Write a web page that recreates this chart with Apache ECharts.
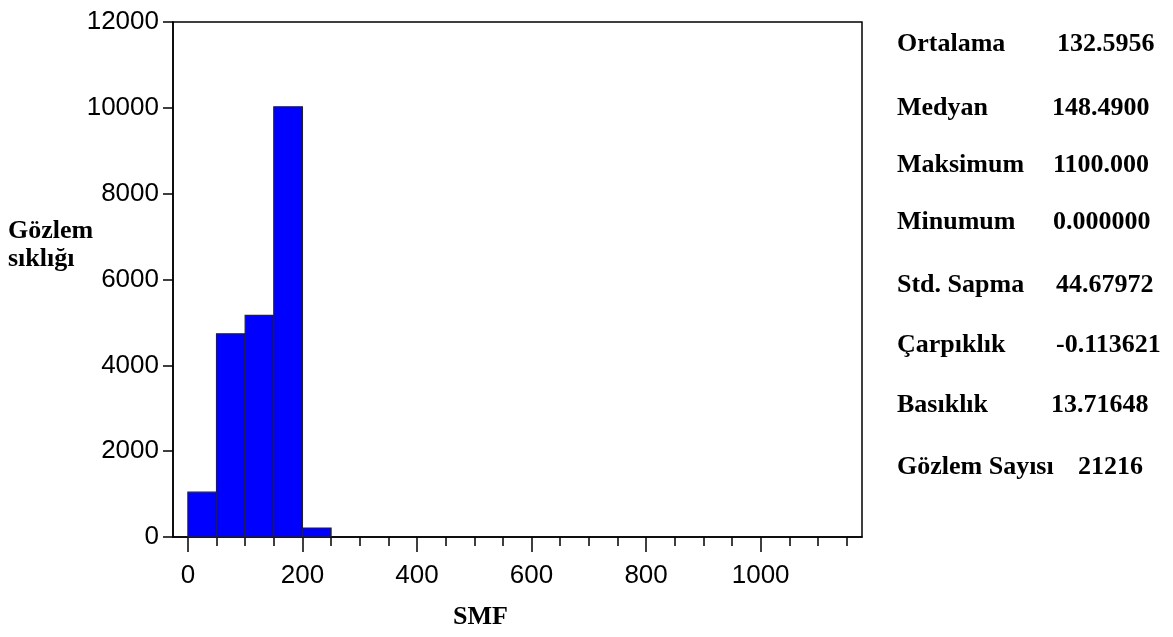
<!DOCTYPE html>
<html>
<head>
<meta charset="utf-8">
<script src="https://cdn.jsdelivr.net/npm/echarts@6/dist/echarts.min.js"></script>
<style>
  html, body { margin: 0; padding: 0; background: #fff; }
  #chart { width: 1173px; height: 637px; }
</style>
</head>
<body>
<div id="chart"></div>
<script>
  // histogram bins (SMF) and frequencies
  var binStarts = [0, 50, 100, 150, 200]
  var binEnds = [50, 100, 150, 200, 250]
  var counts = [1045, 4735, 5165, 10025, 210]

  var xMajorTicks = [0, 200, 400, 600, 800, 1000]
  var xMinorTicks = [0, 50, 100, 150, 200, 250, 300, 350, 400, 450, 500, 550, 600, 650, 700, 750, 800, 850, 900, 950, 1000, 1050, 1100, 1150]

  var statLabels = ['Ortalama', 'Medyan', 'Maksimum', 'Minumum', 'Std. Sapma', 'Çarpıklık', 'Basıklık', 'Gözlem Sayısı']
  var statValues = ['132.5956', '148.4900', '1100.000', '0.000000', '44.67972', '-0.113621', '13.71648', '21216']

  var serif = '"Liberation Serif", "Times New Roman", serif'
  var sans = '"Liberation Sans", Arial, sans-serif'

  // layout only
  var statRowY = [44, 108, 165, 222, 285, 345, 405, 467]
  var statValueX = [1057, 1052, 1053, 1053, 1056, 1056, 1051, 1078]

  var histData = binStarts.map(function (s, i) {
    return [s, binEnds[i], counts[i]]
  })

  var graphics = []
  statLabels.forEach(function (label, i) {
    graphics.push({
      type: 'text', left: 897, top: statRowY[i] - 13,
      style: { text: label, font: 'bold 26px ' + serif, fill: '#000' }
    })
    graphics.push({
      type: 'text', left: statValueX[i], top: statRowY[i] - 13,
      style: { text: statValues[i], font: 'bold 26px ' + serif, fill: '#000' }
    })
  })
  graphics.push({
    type: 'text', left: 8, top: 218,
    style: { text: 'Gözlem', font: 'bold 26px ' + serif, fill: '#000' }
  })
  graphics.push({
    type: 'text', left: 8, top: 246,
    style: { text: 'sıklığı', font: 'bold 26px ' + serif, fill: '#000' }
  })
  graphics.push({
    type: 'text', left: 453, top: 604,
    style: { text: 'SMF', font: 'bold 26px ' + serif, fill: '#000' }
  })

  var plain = function (v) { return String(v) }

  var chart = echarts.init(document.getElementById('chart'))
  chart.setOption({
    animation: false,
    backgroundColor: '#fff',
    grid: {
      left: 173,
      right: 311,
      top: 22,
      bottom: 100,
      show: true,
      borderColor: '#000',
      borderWidth: 1.5,
      backgroundColor: 'transparent'
    },
    xAxis: [{
      type: 'value',
      min: -26,
      max: 1177,
      position: 'bottom',
      splitLine: { show: false },
      axisLine: { show: true, onZero: false, lineStyle: { color: '#000', width: 1.5 } },
      axisTick: { show: true, length: 9, customValues: xMinorTicks, lineStyle: { color: '#000', width: 1.5 } },
      axisLabel: { show: false }
    }, {
      type: 'value',
      min: -26,
      max: 1177,
      position: 'bottom',
      splitLine: { show: false },
      axisLine: { show: false, onZero: false },
      axisTick: { show: true, length: 15, customValues: xMajorTicks, lineStyle: { color: '#000', width: 1.5 } },
      axisLabel: {
        show: true,
        customValues: xMajorTicks,
        formatter: plain,
        margin: 26,
        color: '#000',
        fontFamily: sans,
        fontSize: 26
      }
    }],
    yAxis: {
      type: 'value',
      min: 0,
      max: 12000,
      interval: 2000,
      splitLine: { show: false },
      axisLine: { show: true, onZero: false, lineStyle: { color: '#000', width: 1.5 } },
      axisTick: { show: true, length: 10, lineStyle: { color: '#000', width: 1.5 } },
      axisLabel: {
        margin: 14,
        formatter: plain,
        color: '#000',
        fontFamily: sans,
        fontSize: 26
      }
    },
    series: [{
      type: 'custom',
      xAxisIndex: 0,
      renderItem: function (params, api) {
        var topLeft = api.coord([api.value(0), api.value(2)])
        var bottomRight = api.coord([api.value(1), 0])
        return {
          type: 'rect',
          shape: {
            x: topLeft[0],
            y: topLeft[1],
            width: bottomRight[0] - topLeft[0],
            height: bottomRight[1] - topLeft[1]
          },
          style: { fill: '#0000ff', stroke: '#222', lineWidth: 1.2 }
        }
      },
      encode: { x: [0, 1], y: 2 },
      data: histData
    }],
    graphic: graphics
  })
</script>
</body>
</html>
